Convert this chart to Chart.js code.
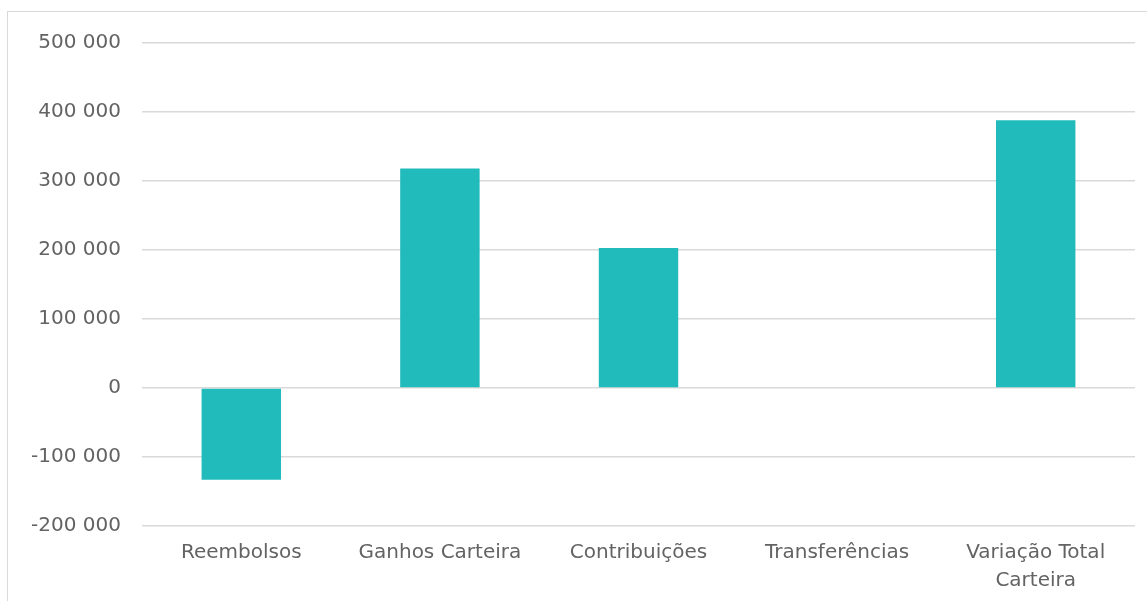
<!DOCTYPE html>
<html><head><meta charset="utf-8">
<script src="https://cdn.jsdelivr.net/npm/chart.js@4.4.1/dist/chart.umd.min.js"></script>
<style>
html,body{margin:0;padding:0;background:#fff;overflow:hidden;}
#wrap{position:absolute;left:0;top:0;width:1147px;height:601px;}
#frame{position:absolute;left:7px;top:11px;width:1200px;height:700px;border:1.5px solid #d9d9d9;box-sizing:border-box;pointer-events:none;}
</style></head>
<body>
<div id="wrap"><canvas id="c" width="1147" height="601"></canvas></div>
<div id="frame"></div>
<script>
const categories = ["Reembolsos", "Ganhos Carteira", "Contribuições", "Transferências", ["Variação Total", "Carteira"]];
const values = [-133000, 318000, 203000, 0, 388000];
const yTicks = [-200000, -100000, 0, 100000, 200000, 300000, 400000, 500000];

function fmt(v){
  const s = Math.abs(v).toString().replace(/\B(?=(\d{3})+(?!\d))/g, " ");
  return (v < 0 ? "-" : "") + s;
}

new Chart(document.getElementById("c"), {
  type: "bar",
  data: {
    labels: categories,
    datasets: [{
      data: values,
      backgroundColor: "#22BBBB",
      borderWidth: 0,
      categoryPercentage: 1,
      barPercentage: 0.4
    }]
  },
  options: {
    responsive: false,
    animation: false,
    layout: { padding: { top: 43, right: 12, left: 0, bottom: 0 } },
    plugins: { legend: { display: false }, tooltip: { enabled: false } },
    scales: {
      x: {
        grid: { display: false, drawTicks: false },
        border: { display: false },
        ticks: { color: "#636363", font: { family: "DejaVu Sans", size: 20, lineHeight: 1.4 }, padding: 13, maxRotation: 0, autoSkip: false },
        afterFit(s){ s.height = 75; }
      },
      y: {
        min: -200000, max: 500000,
        afterBuildTicks(s){ s.ticks = yTicks.map(v => ({ value: v })); },
        grid: { color: "#d9d9d9", lineWidth: 1.5, drawTicks: false },
        border: { display: false },
        ticks: { color: "#636363", font: { family: "DejaVu Sans", size: 20 }, padding: 21, callback: v => fmt(v) },
        afterFit(s){ s.width = 142; }
      }
    }
  }
});
</script>
</body></html>
